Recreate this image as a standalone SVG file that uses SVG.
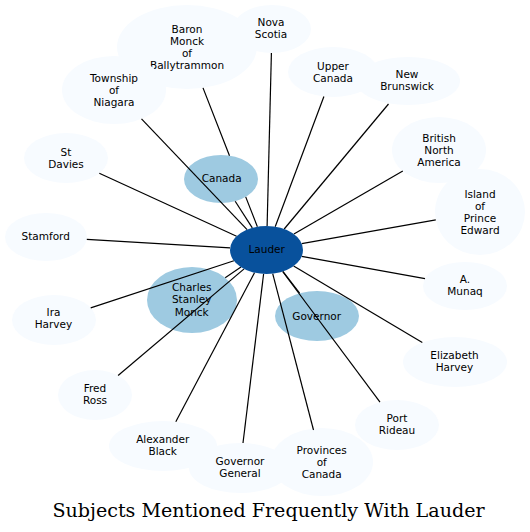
<svg xmlns="http://www.w3.org/2000/svg" width="530" height="532" viewBox="0 0 530 532">
<style>
.light{fill:#f7fbff}
.mid{fill:#9ecae1}
.dark{fill:#08519c}
text{font-family:"DejaVu Sans","Liberation Sans",sans-serif;font-size:10.5px;fill:#000;text-anchor:middle}
.edge{stroke:#000;stroke-width:1.2;fill:none}
.title{font-family:"DejaVu Serif","Liberation Serif",serif;font-size:19.1px}
</style>
<rect width="530" height="532" fill="#fff"/>
<g id="node-baron"><ellipse class="light" cx="187" cy="47" rx="70" ry="42"/><text x="187"><tspan x="187" y="32.5">Baron</tspan><tspan x="187" y="44.5">Monck</tspan><tspan x="187" y="56.5">of</tspan><tspan x="187" y="68.5">Ballytrammon</tspan></text></g>
<g id="node-nova-scotia"><ellipse class="light" cx="272" cy="29" rx="39" ry="24"/><text><tspan x="271" y="26.3">Nova</tspan><tspan x="271" y="38.3">Scotia</tspan></text></g>
<g id="node-township"><ellipse class="light" cx="114" cy="90" rx="52" ry="34"/><text><tspan x="114" y="81.8">Township</tspan><tspan x="114" y="93.8">of</tspan><tspan x="114" y="105.8">Niagara</tspan></text></g>
<g id="node-upper-canada"><ellipse class="light" cx="333" cy="72" rx="45" ry="25"/><text><tspan x="333" y="69.5">Upper</tspan><tspan x="333" y="81.5">Canada</tspan></text></g>
<g id="node-new-brunswick"><ellipse class="light" cx="408" cy="81" rx="52" ry="24"/><text><tspan x="407" y="77.6">New</tspan><tspan x="407" y="89.6">Brunswick</tspan></text></g>
<g id="node-bna"><ellipse class="light" cx="439" cy="150" rx="47" ry="33"/><text><tspan x="439" y="141.5">British</tspan><tspan x="439" y="153.5">North</tspan><tspan x="439" y="165.5">America</tspan></text></g>
<g id="node-island"><ellipse class="light" cx="480" cy="212" rx="45" ry="43"/><text><tspan x="480" y="197.8">Island</tspan><tspan x="480" y="209.8">of</tspan><tspan x="480" y="221.8">Prince</tspan><tspan x="480" y="233.8">Edward</tspan></text></g>
<g id="node-munaq"><ellipse class="light" cx="465" cy="286" rx="42" ry="24"/><text><tspan x="465" y="283">A.</tspan><tspan x="465" y="295">Munaq</tspan></text></g>
<g id="node-elizabeth"><ellipse class="light" cx="455" cy="362" rx="52" ry="25"/><text><tspan x="454.5" y="359">Elizabeth</tspan><tspan x="454.5" y="371">Harvey</tspan></text></g>
<g id="node-port-rideau"><ellipse class="light" cx="397" cy="425" rx="42" ry="25"/><text><tspan x="397" y="422">Port</tspan><tspan x="397" y="434">Rideau</tspan></text></g>
<g id="node-provinces"><ellipse class="light" cx="322" cy="462" rx="51" ry="34"/><text><tspan x="321.7" y="453.5">Provinces</tspan><tspan x="321.7" y="465.5">of</tspan><tspan x="321.7" y="477.5">Canada</tspan></text></g>
<g id="node-governor-general"><ellipse class="light" cx="240" cy="468" rx="51" ry="25"/><text><tspan x="240" y="464.6">Governor</tspan><tspan x="240" y="476.6">General</tspan></text></g>
<g id="node-alexander"><ellipse class="light" cx="163" cy="446" rx="54" ry="25"/><text><tspan x="162.7" y="443">Alexander</tspan><tspan x="162.7" y="455">Black</tspan></text></g>
<g id="node-fred"><ellipse class="light" cx="95" cy="395" rx="37" ry="25"/><text><tspan x="95" y="392">Fred</tspan><tspan x="95" y="404">Ross</tspan></text></g>
<g id="node-ira"><ellipse class="light" cx="54" cy="320" rx="42" ry="25"/><text><tspan x="53.5" y="316.1">Ira</tspan><tspan x="53.5" y="328.1">Harvey</tspan></text></g>
<g id="node-stamford"><ellipse class="light" cx="46" cy="237" rx="41" ry="24"/><text x="45.7" y="239.8">Stamford</text></g>
<g id="node-st-davies"><ellipse class="light" cx="66" cy="158" rx="42" ry="25"/><text><tspan x="66" y="155.6">St</tspan><tspan x="66" y="167.6">Davies</tspan></text></g>
<g id="node-canada"><ellipse class="mid" cx="221" cy="179" rx="37" ry="24"/><text x="221.7" y="182.3">Canada</text></g>
<g id="node-monck"><ellipse class="mid" cx="192" cy="300" rx="45" ry="33"/><text><tspan x="191.7" y="290.8">Charles</tspan><tspan x="191.7" y="303.3">Stanley</tspan><tspan x="191.7" y="315.8">Monck</tspan></text></g>
<g id="node-governor"><ellipse class="mid" cx="317" cy="316" rx="42" ry="25"/><text x="316.7" y="319.5">Governor</text></g>
<g id="connectors">
<path class="edge" d="M235.2,201.2L252.3,227.9"/>
<path class="edge" d="M225.2,277.7L241,267.1"/>
<path class="edge" d="M299.6,293.2L282.9,271.4"/>
<path class="edge" d="M203,87.9L229.5,155.7M245.7,196.9L257.4,226.8"/>
<path class="edge" d="M271.4,53L267.1,226"/>
<path class="edge" d="M141.5,118.9L247.1,229.7"/>
<path class="edge" d="M323.9,96.5L275.2,226.7"/>
<path class="edge" d="M388.5,104L284.2,229"/>
<path class="edge" d="M402.8,171L293.9,234.1"/>
<path class="edge" d="M435.8,219.9L301.7,243.7"/>
<path class="edge" d="M425,278.7L301.7,256.4"/>
<path class="edge" d="M422.3,342.6L293.6,266.1"/>
<path class="edge" d="M380,402.1L282.6,271.5"/>
<path class="edge" d="M313.5,430L272.7,273.7"/>
<path class="edge" d="M243,443L263.6,273.9"/>
<path class="edge" d="M175.8,421.7L254.5,272.7"/>
<path class="edge" d="M118.1,375.5L244.1,268.9"/>
<path class="edge" d="M90.7,307.9L233.9,260.7"/>
<path class="edge" d="M86.8,239.4L230.1,247.9"/>
<path class="edge" d="M99.3,173.3L236.6,236.3"/>
</g>
<g id="node-lauder"><ellipse class="dark" cx="266.5" cy="250" rx="36.5" ry="24"/><text x="266.7" y="253.3">Lauder</text></g>
<text class="title" x="268.5" y="517">Subjects Mentioned Frequently With Lauder</text>
</svg>
